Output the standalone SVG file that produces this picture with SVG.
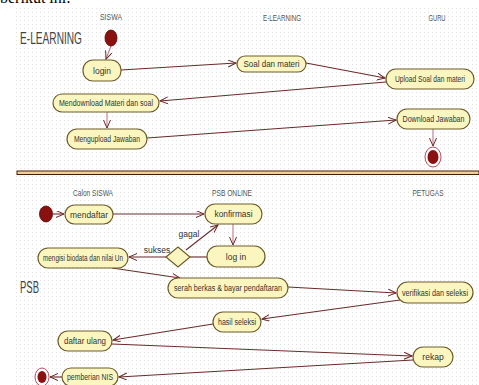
<svg xmlns="http://www.w3.org/2000/svg" width="479" height="385" viewBox="0 0 479 385">
<style>
.node rect{fill:#fbf6bf;stroke:#6e5c2a;stroke-width:1.2}
.t{font-family:"Liberation Sans",Arial,sans-serif;font-size:8.5px;fill:#333;text-anchor:middle}
.h{font-family:"Liberation Sans",Arial,sans-serif;font-size:8.5px;fill:#555;text-anchor:middle}
.big{font-family:"Liberation Sans",Arial,sans-serif;font-size:16px;fill:#444}
.c path{fill:none;stroke:#6b2a2a;stroke-width:1.1;marker-end:url(#arr)}
.c path.p{stroke:#c27a8a}
.c path.n{marker-end:none}
</style>
<defs>
<pattern id="grid" width="4" height="4" patternUnits="userSpaceOnUse">
<rect width="4" height="4" fill="#ffffff"/>
<rect x="0" y="0" width="1" height="1" fill="#e2e2e2"/>
</pattern>
<marker id="arr" markerWidth="10" markerHeight="8" refX="8" refY="3.5" orient="auto" markerUnits="userSpaceOnUse">
<path d="M0,0 L8,3.5 L0,7" fill="none" stroke="#6b2a2a" stroke-width="1"/>
</marker>
</defs>
<rect width="479" height="385" fill="#ffffff"/>
<text x="0" y="3" font-family="Liberation Serif,serif" font-size="16" fill="#000">berikut ini:</text>
<rect x="14" y="7" width="465" height="163" fill="url(#grid)"/>
<rect x="14" y="176" width="465" height="209" fill="url(#grid)"/>
<rect x="17" y="171" width="462" height="3.5" fill="#f3cf9c" stroke="#4a1e00" stroke-width="1"/>

<text class="big" x="20" y="44" textLength="62" lengthAdjust="spacingAndGlyphs">E-LEARNING</text>
<text class="big" x="20" y="293" textLength="19" lengthAdjust="spacingAndGlyphs">PSB</text>
<text class="h" x="111" y="20" textLength="22" lengthAdjust="spacingAndGlyphs">SISWA</text>
<text class="h" x="282" y="21" textLength="38" lengthAdjust="spacingAndGlyphs">E-LEARNING</text>
<text class="h" x="437" y="21" textLength="17" lengthAdjust="spacingAndGlyphs">GURU</text>
<text class="h" x="93" y="196" textLength="40" lengthAdjust="spacingAndGlyphs">Calon SISWA</text>
<text class="h" x="232" y="196" textLength="40" lengthAdjust="spacingAndGlyphs">PSB ONLINE</text>
<text class="h" x="428" y="196" textLength="31" lengthAdjust="spacingAndGlyphs">PETUGAS</text>

<g class="c" id="connectors">
<path class="p" d="M111,46 L106,59"/>
<path d="M121,70 L236,63"/>
<path d="M306,63 L385,78"/>
<path d="M386,82 L160,101"/>
<path class="p" d="M107,112 L107,128"/>
<path d="M147,138 L396,120"/>
<path class="p" d="M433,129 L433,146"/>
<path d="M53,214 L64,214"/>
<path d="M113,214 L204,214"/>
<path class="p" d="M233,224 L233,245"/>
<path class="n" d="M207,257 L190,257"/>
<path d="M186,250 L218,225"/>
<path d="M166,257 L129,257"/>
<path d="M112,268 L180,278"/>
<path d="M288,287 L396,293"/>
<path d="M400,300 L262,319"/>
<path d="M213,324 L113,340"/>
<path d="M112,344 L412,356"/>
<path d="M413,360 L119,377"/>
<path d="M62,377 L50,377"/>
</g>
<text class="t" x="189" y="237">gagal</text>
<text class="t" x="157" y="253">sukses</text>

<g id="start1"><ellipse cx="111" cy="38" rx="6" ry="8" fill="#8b1010" stroke="#5a0808" stroke-width="0.8"/></g>
<g id="login" class="node"><rect x="83" y="60" width="38" height="21" rx="10"/><text class="t" x="102" y="73.5">login</text></g>
<g id="soal" class="node"><rect x="237" y="56" width="69" height="16" rx="8"/><text class="t" x="271.5" y="67" textLength="56" lengthAdjust="spacingAndGlyphs">Soal dan materi</text></g>
<g id="upload" class="node"><rect x="386" y="69" width="88" height="20" rx="10"/><text class="t" x="430" y="82" textLength="70" lengthAdjust="spacingAndGlyphs">Upload Soal dan materi</text></g>
<g id="mendownload" class="node"><rect x="53" y="94" width="106" height="18" rx="9"/><text class="t" x="106" y="106" textLength="94" lengthAdjust="spacingAndGlyphs">Mendownload Materi dan soal</text></g>
<g id="mengupload" class="node"><rect x="67" y="129" width="80" height="20" rx="10"/><text class="t" x="107" y="142" textLength="66" lengthAdjust="spacingAndGlyphs">Mengupload Jawaban</text></g>
<g id="download" class="node"><rect x="397" y="109" width="73" height="20" rx="10"/><text class="t" x="433.5" y="122" textLength="62" lengthAdjust="spacingAndGlyphs">Download Jawaban</text></g>
<g id="end1"><ellipse cx="433" cy="157" rx="8" ry="10" fill="#fff" stroke="#b05060" stroke-width="1"/><ellipse cx="433" cy="157" rx="5.5" ry="7" fill="#8b1010"/></g>

<g id="start2"><ellipse cx="46" cy="214" rx="6.5" ry="8" fill="#8b1010" stroke="#5a0808" stroke-width="0.8"/></g>
<g id="mendaftar" class="node"><rect x="65" y="205" width="48" height="19" rx="9.5"/><text class="t" x="89" y="217.5" textLength="38" lengthAdjust="spacingAndGlyphs">mendaftar</text></g>
<g id="konfirmasi" class="node"><rect x="205" y="204" width="57" height="20" rx="10"/><text class="t" x="233.5" y="217" textLength="38" lengthAdjust="spacingAndGlyphs">konfirmasi</text></g>
<g id="logIn" class="node"><rect x="207" y="246" width="58" height="21" rx="10.5"/><text class="t" x="236" y="259.5">log in</text></g>
<g id="decision"><polygon points="166,257 178,247 190,257 178,267" fill="#fbf6bf" stroke="#6e5c2a" stroke-width="1.2"/></g>
<g id="mengisi" class="node"><rect x="38" y="248" width="90" height="20" rx="10"/><text class="t" x="83" y="261" textLength="80" lengthAdjust="spacingAndGlyphs">mengisi biodata dan nilai Un</text></g>
<g id="serah" class="node"><rect x="168" y="278" width="120" height="20" rx="10"/><text class="t" x="228" y="291" textLength="108" lengthAdjust="spacingAndGlyphs">serah berkas &amp; bayar pendaftaran</text></g>
<g id="verifikasi" class="node"><rect x="397" y="282" width="76" height="21" rx="10.5"/><text class="t" x="435" y="295.5" textLength="66" lengthAdjust="spacingAndGlyphs">verifikasi dan seleksi</text></g>
<g id="hasil" class="node"><rect x="213" y="312" width="48" height="20" rx="10"/><text class="t" x="237" y="325" textLength="38" lengthAdjust="spacingAndGlyphs">hasil seleksi</text></g>
<g id="daftar" class="node"><rect x="58" y="331" width="54" height="20" rx="10"/><text class="t" x="85" y="344" textLength="42" lengthAdjust="spacingAndGlyphs">daftar ulang</text></g>
<g id="rekap" class="node"><rect x="413" y="347" width="40" height="20" rx="10"/><text class="t" x="433" y="360">rekap</text></g>
<g id="pemberian" class="node"><rect x="62" y="368" width="56" height="18" rx="9"/><text class="t" x="90" y="380" textLength="46" lengthAdjust="spacingAndGlyphs">pemberian NIS</text></g>
<g id="end2"><ellipse cx="42" cy="377" rx="7" ry="9" fill="#fff" stroke="#b05060" stroke-width="1"/><ellipse cx="42" cy="377" rx="4.5" ry="6" fill="#8b1010"/></g>
</svg>
